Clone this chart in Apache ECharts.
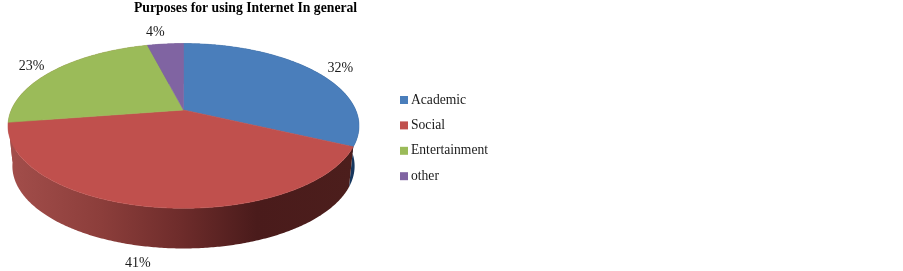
<!DOCTYPE html>
<html>
<head>
<meta charset="utf-8">
<script src="https://cdn.jsdelivr.net/npm/echarts@6/dist/echarts.min.js"></script>
<style>html,body{margin:0;padding:0;background:#fff}#c{width:903px;height:271px}</style>
</head>
<body>
<div id="c"></div>
<script>
const categories = ['Academic', 'Social', 'Entertainment', 'other'];
const shares = [32, 40.6, 23.4, 4];
const titleText = 'Purposes for using Internet In general';

const topColors = ['#4a7ebb', '#c0504d', '#9bbb59', '#8064a2'];
const sideFills = [
  '#17375e',
  {type: 'linear', x: 0, y: 0, x2: 1, y2: 0, colorStops: [
    {offset: 0, color: '#a34e4b'}, {offset: 0.27, color: '#8c3e3b'},
    {offset: 0.5, color: '#6e2c2b'}, {offset: 0.72, color: '#4a1b1b'}, {offset: 1, color: '#4c1e1c'}]},
  '#a34e4b',
  '#5c4776'
];
const labelOffsets = [[25, -3.5], [-15, 56], [-22, -4], [-10, -12]];
const FONT = '"Liberation Serif","Times New Roman",serif';

// projection of the pie disc (perspective)
const P = {cx: 183.5, cy: 110, a: 172.2, b: 79.3, k: 0.193, depth: 40.2, shrink: 0.975};
const total = shares.reduce((s, v) => s + v, 0);
const starts = shares.map((_, i) => shares.slice(0, i).reduce((s, v) => s + v, 0) / total * 2 * Math.PI);
const ends = shares.map((v, i) => starts[i] + v / total * 2 * Math.PI);

function project(t, lower) {
  const u = Math.sin(t), v = -Math.cos(t), d = 1 - P.k * v;
  const s = lower ? P.shrink : 1;
  return [P.cx + s * P.a * u / d, P.cy + (lower ? P.depth : 0) + P.b * v / d];
}
function arc(t0, t1, lower) {
  const n = Math.max(2, Math.ceil(Math.abs(t1 - t0) / 0.01));
  const out = [];
  for (let i = 0; i <= n; i++) out.push(project(t0 + (t1 - t0) * i / n, lower));
  return out;
}

const sideSeries = {
  type: 'custom', coordinateSystem: 'none', silent: true, z: 1, animation: false,
  data: shares,
  renderItem(params) {
    const i = params.dataIndex;
    const pts = arc(starts[i], ends[i], false).concat(arc(ends[i], starts[i], true));
    return {type: 'polygon', shape: {points: pts}, style: {fill: sideFills[i]}};
  }
};

const topSeries = categories.map((name, i) => ({
  name, type: 'custom', coordinateSystem: 'none', silent: true, z: 2, animation: false,
  itemStyle: {color: topColors[i]},
  data: [shares[i]],
  renderItem() {
    const pts = [[P.cx, P.cy]].concat(arc(starts[i], ends[i], false));
    const m = project((starts[i] + ends[i]) / 2, false);
    return {type: 'group', children: [
      {type: 'polygon', shape: {points: pts}, style: {fill: topColors[i], stroke: topColors[i], lineWidth: 0.6}},
      {type: 'text', z2: 5, style: {
        text: Math.round(shares[i]) + '%', x: m[0] + labelOffsets[i][0], y: m[1] + labelOffsets[i][1],
        align: 'center', verticalAlign: 'middle', fill: '#1a1a1a', font: '14px ' + FONT}}
    ]};
  }
}));

const chart = echarts.init(document.getElementById('c'), null, {renderer: 'canvas'});
chart.setOption({
  animation: false,
  backgroundColor: '#fff',
  title: {text: titleText, left: 134, top: 1, padding: 0,
    textStyle: {fontFamily: FONT, fontSize: 13.7, fontWeight: 'bold', color: '#000'}},
  legend: {
    data: categories, orient: 'vertical', left: 400, top: 93, padding: 0,
    icon: 'rect', itemWidth: 8, itemHeight: 8, itemGap: 11.4,
    selectedMode: false,
    textStyle: {fontFamily: FONT, fontSize: 13.6, color: '#1a1a1a', lineHeight: 14, padding: [0, 0, 0, -2]}
  },
  series: [sideSeries].concat(topSeries)
});
</script>
</body>
</html>
